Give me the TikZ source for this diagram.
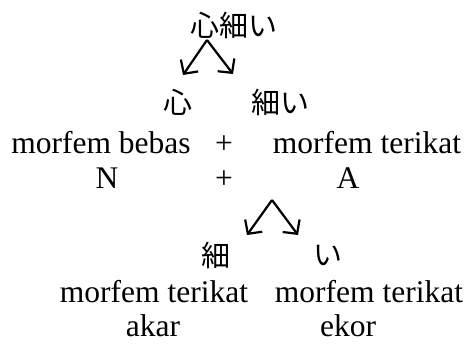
\documentclass[tikz,border=0pt]{standalone}
\usepackage{fontspec}
\setmainfont{Liberation Serif}
\newfontfamily\jpfont{Noto Sans CJK JP}
\usetikzlibrary{arrows.meta, positioning}
\tikzset{
  arrowK/.style={-{Straight Barb[length=10pt, width=21pt]}, line width=2.2pt, black},
  wordJ/.style={font=\jpfont\fontsize{29}{34}\selectfont, inner sep=0pt},
  wordL/.style={font=\fontsize{31.5}{38}\selectfont, inner sep=0pt, anchor=base},
}

\begin{document}
\begin{tikzpicture}[x=1pt, y=-1pt]
  \useasboundingbox (0,0) rectangle (468,343);
  % kata majemuk
  \node[wordJ] (kata) at (234,25) {心細い};
  \coordinate (p1) at (207,40);
  \coordinate (q1) at (183,75);
  \coordinate (r1) at (233,74);
  \draw[arrowK] (p1) -- (q1);
  \draw[arrowK] (p1) -- (r1);
  \node[wordJ] (shin) at (178,102) {心};
  \node[wordJ] (hosoi) at (280,102) {細い};
  % baris pertama
  \node[wordL] (bebas) at (101,153) {morfem bebas};
  \node[wordL] (plusA) at (224,153) {+};
  \node[wordL] (terikatA) at (367,153) {morfem terikat};
  \node[wordL] (kelasN) at (107,188) {N};
  \node[wordL] (plusB) at (224,188) {+};
  \node[wordL] (kelasA) at (348,188) {A};
  % pecahan 細い
  \coordinate (p2) at (272,200);
  \coordinate (q2) at (247,235);
  \coordinate (r2) at (298,235);
  \draw[arrowK] (p2) -- (q2);
  \draw[arrowK] (p2) -- (r2);
  \node[wordJ] (hoso) at (216,255) {細};
  \node[wordJ] (i) at (328,255) {い};
  % baris kedua
  \node[wordL] (terikatB) at (154,302) {morfem terikat};
  \node[wordL] (terikatC) at (369,302) {morfem terikat};
  \node[wordL] (akar) at (153,336) {akar};
  \node[wordL] (ekor) at (348,336) {ekor};
\end{tikzpicture}
\end{document}
